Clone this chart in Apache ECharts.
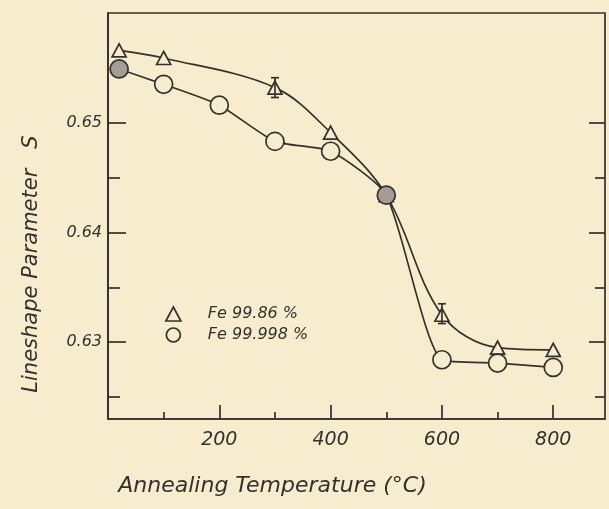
<!DOCTYPE html>
<html>
<head>
<meta charset="utf-8">
<script src="https://cdn.jsdelivr.net/npm/echarts@6/dist/echarts.min.js"></script>
<style>
html,body{margin:0;padding:0;background:#f8ecce;}
#c{width:609px;height:509px;}
</style>
</head>
<body>
<div id="c"></div>
<script>
// ---- data ----
var temps = [20, 100, 200, 300, 400, 500, 600, 700, 800];
var trianglesTemps = [20, 100, 300, 400, 500, 600, 700, 800];
var fe9986 = [0.6566, 0.6559, 0.6532, 0.6491, 0.6434, 0.6325, 0.6295, 0.6293];
var fe99998 = [0.6549, 0.6535, 0.6516, 0.6483, 0.6474, 0.6434, 0.6284, 0.6281, 0.6277];
var errTemps = [300, 600];
var errLow = [0.6523, 0.6317];
var errHigh = [0.6541, 0.6335];
var xMajorTicks = [200, 400, 600, 800];
var xMinorTicks = [100, 300, 500, 700];
var yMajorTicks = [0.63, 0.64, 0.65];
var yMinorTicks = [0.625, 0.635, 0.645];
var seriesNames = ['Fe 99.86 %', 'Fe 99.998 %'];

var ink = '#36302c';
var bg = '#f8ecce';
var font = '"DejaVu Sans", sans-serif';

function pairs(xs, ys) { return xs.map(function (x, i) { return [x, ys[i]]; }); }
var errData = errTemps.map(function (t, i) { return [t, errLow[i], errHigh[i]]; });

var circleData = pairs(temps, fe99998).map(function (p, i) {
  if (i === 0 || p[0] === 500) return { value: p, itemStyle: { color: '#a39d93' } };
  return p;
});
var triData = pairs(trianglesTemps, fe9986);

var chart = echarts.init(document.getElementById('c'), null, { renderer: 'canvas' });
var xCommon = {
  type: 'value', min: 0, max: 893, position: 'bottom',
  splitLine: { show: false }
};
var yCommon = {
  type: 'value', min: 0.623, max: 0.66,
  splitLine: { show: false }
};
var lw = 1.7;
chart.setOption({
  backgroundColor: bg,
  animation: false,
  grid: { left: 108, top: 13, right: 4, bottom: 90, show: true, borderColor: ink, borderWidth: lw, backgroundColor: 'transparent' },
  legend: {
    orient: 'vertical', left: 160, top: 301, itemGap: 5,
    itemWidth: 15, itemHeight: 14,
    data: [{ name: seriesNames[0], icon: 'triangle' }, { name: seriesNames[1], icon: 'circle' }],
    itemStyle: { color: bg, borderColor: ink, borderWidth: lw },
    textStyle: { color: ink, fontFamily: font, fontStyle: 'italic', fontSize: 16, padding: [0, 0, 0, 22] }
  },
  xAxis: [
    Object.assign({}, xCommon, {
      name: 'Annealing Temperature (°C)', nameLocation: 'middle', nameGap: 56,
      nameTextStyle: { color: ink, fontFamily: font, fontStyle: 'italic', fontSize: 22, padding: [0, 168, 0, 0] },
      axisLine: { show: true, lineStyle: { color: ink, width: lw } },
      axisTick: { show: true, inside: true, length: 14, customValues: xMajorTicks, lineStyle: { color: ink, width: lw } },
      axisLabel: { show: true, customValues: xMajorTicks, margin: 12, color: ink, fontFamily: font, fontStyle: 'italic', fontSize: 19 }
    }),
    Object.assign({}, xCommon, {
      axisLine: { show: false },
      axisTick: { show: true, inside: true, length: 7, customValues: xMinorTicks, lineStyle: { color: ink, width: lw } },
      axisLabel: { show: false }
    })
  ],
  yAxis: [
    Object.assign({}, yCommon, {
      position: 'left',
      name: 'Lineshape Parameter   S', nameLocation: 'middle', nameGap: 66,
      nameTextStyle: { color: ink, fontFamily: font, fontStyle: 'italic', fontSize: 21, padding: [0, 96, 0, 0] },
      axisLine: { show: true, lineStyle: { color: ink, width: lw } },
      axisTick: { show: true, inside: true, length: 18, customValues: yMajorTicks, lineStyle: { color: ink, width: lw } },
      axisLabel: { show: true, customValues: yMajorTicks, margin: 6, color: ink, fontFamily: font, fontStyle: 'italic', fontSize: 16,
        formatter: function (v) { return v.toFixed(2); } }
    }),
    Object.assign({}, yCommon, {
      position: 'left',
      axisLine: { show: false },
      axisTick: { show: true, inside: true, length: 12, customValues: yMinorTicks, lineStyle: { color: ink, width: lw } },
      axisLabel: { show: false }
    }),
    Object.assign({}, yCommon, {
      position: 'right',
      axisLine: { show: false },
      axisTick: { show: true, inside: true, length: 16, customValues: yMajorTicks, lineStyle: { color: ink, width: lw } },
      axisLabel: { show: false }
    }),
    Object.assign({}, yCommon, {
      position: 'right',
      axisLine: { show: false },
      axisTick: { show: true, inside: true, length: 10, customValues: yMinorTicks, lineStyle: { color: ink, width: lw } },
      axisLabel: { show: false }
    })
  ],
  series: [
    {
      name: seriesNames[0], type: 'line', data: triData, smooth: 0.35,
      symbol: 'triangle', symbolSize: [14, 13],
      lineStyle: { color: ink, width: lw },
      itemStyle: { color: bg, borderColor: ink, borderWidth: lw },
      z: 3
    },
    {
      name: seriesNames[1], type: 'line', data: circleData, smooth: 0.2,
      symbol: 'circle', symbolSize: 18,
      lineStyle: { color: ink, width: lw },
      itemStyle: { color: bg, borderColor: ink, borderWidth: lw },
      z: 4
    },
    {
      type: 'custom', data: errData, z: 5,
      renderItem: function (params, api) {
        var x = api.coord([api.value(0), api.value(1)]);
        var top = api.coord([api.value(0), api.value(2)]);
        var w = 4;
        return {
          type: 'group',
          children: [
            { type: 'line', shape: { x1: x[0], y1: x[1], x2: top[0], y2: top[1] }, style: { stroke: ink, lineWidth: lw } },
            { type: 'line', shape: { x1: x[0] - w, y1: x[1], x2: x[0] + w, y2: x[1] }, style: { stroke: ink, lineWidth: lw } },
            { type: 'line', shape: { x1: top[0] - w, y1: top[1], x2: top[0] + w, y2: top[1] }, style: { stroke: ink, lineWidth: lw } }
          ]
        };
      }
    }
  ]
});
</script>
</body>
</html>
